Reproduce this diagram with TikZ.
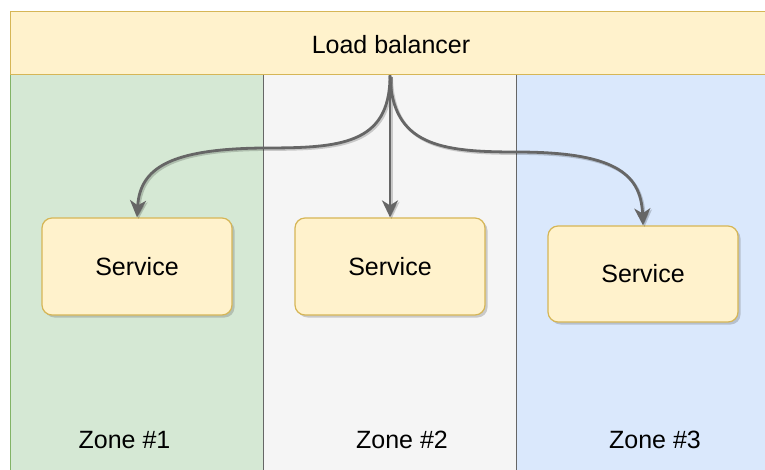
\documentclass[tikz,border=0pt]{standalone}
\usepackage{fontspec}
\setmainfont{Liberation Sans}
\usetikzlibrary{arrows.meta,shadows}
\definecolor{lbfill}{HTML}{FFF2CC}
\definecolor{lbdraw}{HTML}{D6B656}
\definecolor{z1fill}{HTML}{D5E8D4}
\definecolor{z1draw}{HTML}{82B366}
\definecolor{z2fill}{HTML}{F5F5F5}
\definecolor{z2draw}{HTML}{666666}
\definecolor{z3fill}{HTML}{DAE8FC}
\definecolor{z3draw}{HTML}{6C8EBF}
\definecolor{arrowgray}{HTML}{666666}
\tikzset{
  txt/.style={font=\fontsize{25}{30}\selectfont, text=black, inner sep=0pt},
  zonebox/.style={rectangle, line width=1pt, minimum width=#1, minimum height=405pt, inner sep=0pt},
  svc/.style={rectangle, rounded corners=10pt, fill=lbfill, draw=lbdraw, line width=1.2pt,
    minimum width=190pt, minimum height=97pt, inner sep=0pt,
    font=\fontsize{25}{30}\selectfont,
    drop shadow={shadow xshift=2.5pt, shadow yshift=-2.5pt, opacity=0.3, fill=black!60}},
  conn/.style={draw=arrowgray, line width=2.8pt,
    arrows={-Stealth[length=17pt,width=16pt,inset=5pt]}},
  connshadow/.style={conn, draw=black, opacity=0.18}
}
\begin{document}
\begin{tikzpicture}[x=1pt,y=-1pt]
\useasboundingbox (0,0) rectangle (765,470);
\fill[white] (0,0) rectangle (765,470);
\clip (0,0) rectangle (765,470);
% zones
\node[zonebox=253pt, fill=z1fill, draw=z1draw] (z1) at (136.5,277.5) {};
\node[zonebox=254pt, fill=z3fill, draw=z3draw] (z3) at (643,277.5) {};
\node[zonebox=253pt, fill=z2fill, draw=z2draw] (z2) at (389.5,277.5) {};
% load balancer
\node[rectangle, fill=lbfill, draw=lbdraw, line width=1pt, minimum width=760pt,
  minimum height=63pt, inner sep=0pt] (lb) at (390,43.5) {};
\node[txt] (lbt) at (391,45) {Load balancer};
% services
\node[svc] (s1) at (137,266.5) {Service};
\node[svc] (s2) at (390,266.5) {Service};
\node[svc, minimum height=96pt] (s3) at (643,274) {Service};
% zone labels
\node[txt] (l1) at (124.5,440) {Zone \#1};
\node[txt] (l2) at (402,440) {Zone \#2};
\node[txt] (l3) at (655,440) {Zone \#3};
% connector shadows
\begin{scope}[transform canvas={xshift=1.5pt,yshift=-1.5pt}]
\draw[connshadow] (lb.south) .. controls (390,145) and (340,148) .. (263,148)
  .. controls (170,149) and (140,168) .. (s1.north);
\draw[connshadow] (lb.south) -- (s2.north);
\draw[connshadow] (lb.south) .. controls (392,145) and (440,152) .. (516,152)
  .. controls (612,152) and (641,172) .. (s3.north);
\end{scope}
% connectors
\draw[conn] (lb.south) .. controls (390,145) and (340,148) .. (263,148)
  .. controls (170,149) and (140,168) .. (s1.north);
\draw[conn] (lb.south) -- (s2.north);
\draw[conn] (lb.south) .. controls (392,145) and (440,152) .. (516,152)
  .. controls (612,152) and (641,172) .. (s3.north);
\end{tikzpicture}
\end{document}
